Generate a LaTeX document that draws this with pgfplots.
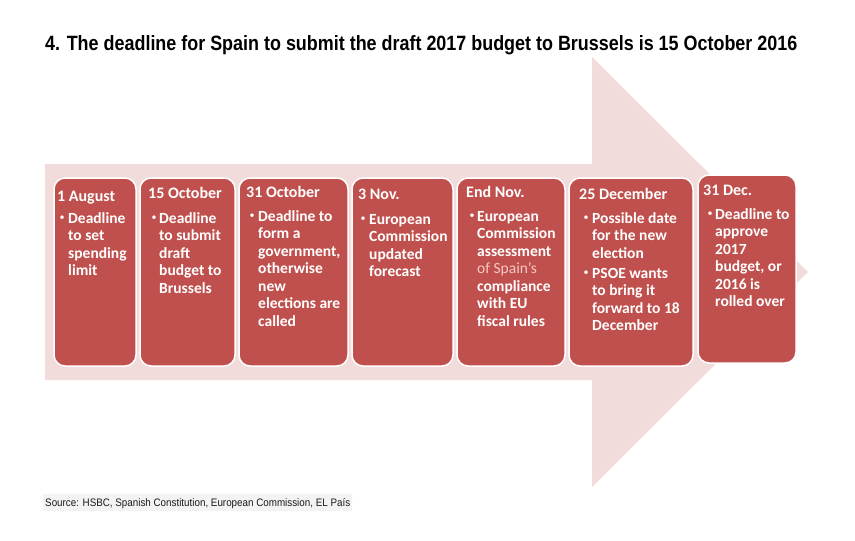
\documentclass[border=0pt]{standalone}
\usepackage{graphicx}
\usepackage{pgfplots}
\pgfplotsset{compat=1.18}
\usepackage{fontspec}
\setmainfont{Carlito}
\newfontfamily\arialfont{Liberation Sans}
\definecolor{boxred}{HTML}{C0504D}
\definecolor{arrowpink}{HTML}{F2DCDB}
\definecolor{spainpink}{HTML}{F4C9C6}
\definecolor{srcbg}{HTML}{F3F3F3}
\newcommand{\hd}[3]{\node[anchor=base west, inner sep=0pt, text=white, font=\fontsize{16bp}{18bp}\selectfont\bfseries] at (axis cs:#1,#2) {#3};}
\newcommand{\tl}[3]{\node[anchor=base west, inner sep=0pt, text=white, font=\fontsize{15.5bp}{17.5bp}\selectfont\bfseries] at (axis cs:#1,#2) {#3};}
\newcommand{\bul}[2]{\node[anchor=base west, inner sep=0pt, text=white, font=\fontsize{10bp}{12bp}\selectfont] at (axis cs:#1+0.5,#2-2.2) {\textbullet};}
\begin{document}
\begin{tikzpicture}
\begin{axis}[
  scale only axis, width=855bp, height=541bp,
  xmin=0, xmax=855, ymin=0, ymax=541, y dir=reverse,
  hide axis, clip=false, enlargelimits=false]
% page background
\addplot[draw=none, fill=white] coordinates {(0,0)(855,0)(855,541)(0,541)(0,0)};
% arrow
\addplot[draw=none, fill=arrowpink] coordinates {(45,164)(592,164)(592,57)(808,272)(592,487)(592,380)(45,380)(45,164)};
% boxes
\addplot[fill=boxred, draw=white, line width=1.5bp, rounded corners=11bp] coordinates {(95,366)(136,366)(136,178)(54,178)(54,366)(95,366)};
\addplot[fill=boxred, draw=white, line width=1.5bp, rounded corners=11bp] coordinates {(187,366)(235,366)(235,178)(140,178)(140,366)(187,366)};
\addplot[fill=boxred, draw=white, line width=1.5bp, rounded corners=11bp] coordinates {(293,366)(348,366)(348,178)(239,178)(239,366)(293,366)};
\addplot[fill=boxred, draw=white, line width=1.5bp, rounded corners=11bp] coordinates {(402,366)(453,366)(453,178)(352,178)(352,366)(402,366)};
\addplot[fill=boxred, draw=white, line width=1.5bp, rounded corners=11bp] coordinates {(511,366)(565,366)(565,178)(457,178)(457,366)(511,366)};
\addplot[fill=boxred, draw=white, line width=1.5bp, rounded corners=11bp] coordinates {(631,366)(693,366)(693,178)(569,178)(569,366)(631,366)};
\addplot[fill=boxred, draw=white, line width=1.5bp, rounded corners=11bp] coordinates {(747,363)(796,363)(796,175)(698,175)(698,363)(747,363)};
% source background
\addplot[draw=none, fill=srcbg] coordinates {(43,494)(352,494)(352,511)(43,511)(43,494)};
% title and source
\node[anchor=base west, inner sep=0pt] at (axis cs:45,51) {\resizebox{752bp}{15bp}{\arialfont\bfseries 4. The deadline for Spain to submit the draft 2017 budget to Brussels is 15 October 2016}};
\node[anchor=base west, inner sep=0pt, text=black!90] at (axis cs:45,506) {\resizebox{305bp}{8bp}{\arialfont Source: HSBC, Spanish Constitution, European Commission, EL País}};
% box 1
\hd{57}{201}{1 August}
\bul{59}{223}
\tl{68}{223}{Deadline}
\tl{68}{240.5}{to set}
\tl{68}{258}{spending}
\tl{68}{275.5}{limit}
% box 2
\hd{148}{198}{15 October}
\bul{151}{223}
\tl{159}{223}{Deadline}
\tl{159}{240.5}{to submit}
\tl{159}{258}{draft}
\tl{159}{275.5}{budget to}
\tl{159}{293}{Brussels}
% box 3
\hd{246}{197}{31 October}
\bul{249}{221}
\tl{258}{221}{Deadline to}
\tl{258}{238.5}{form a}
\tl{258}{256}{government,}
\tl{258}{273.5}{otherwise}
\tl{258}{291}{new}
\tl{258}{308.5}{elections are}
\tl{258}{326}{called}
% box 4
\hd{358}{199}{3 Nov.}
\bul{360}{224}
\tl{369}{224}{European}
\tl{369}{241.5}{Commission}
\tl{369}{259}{updated}
\tl{369}{276.5}{forecast}
% box 5
\hd{466}{197}{End Nov.}
\bul{469}{221}
\tl{477}{221}{European}
\tl{477}{238.5}{Commission}
\tl{477}{256}{assessment}
\node[anchor=base west, inner sep=0pt, text=spainpink, font=\fontsize{15.5bp}{17.5bp}\selectfont] at (axis cs:477,273.5) {of Spain’s};
\tl{477}{291}{compliance}
\tl{477}{308.5}{with EU}
\tl{477}{326}{fiscal rules}
% box 6
\hd{579}{199}{25 December}
\bul{583}{223}
\tl{592}{223}{Possible date}
\tl{592}{240.5}{for the new}
\tl{592}{258}{election}
\bul{583}{278}
\tl{592}{278}{PSOE wants}
\tl{592}{295.5}{to bring it}
\tl{592}{313}{forward to 18}
\tl{592}{330.5}{December}
% box 7
\hd{703}{195}{31 Dec.}
\bul{707}{219}
\tl{715}{219}{Deadline to}
\tl{715}{236.5}{approve}
\tl{715}{254}{2017}
\tl{715}{271.5}{budget, or}
\tl{715}{289}{2016 is}
\tl{715}{306.5}{rolled over}
\end{axis}
\end{tikzpicture}
\end{document}
